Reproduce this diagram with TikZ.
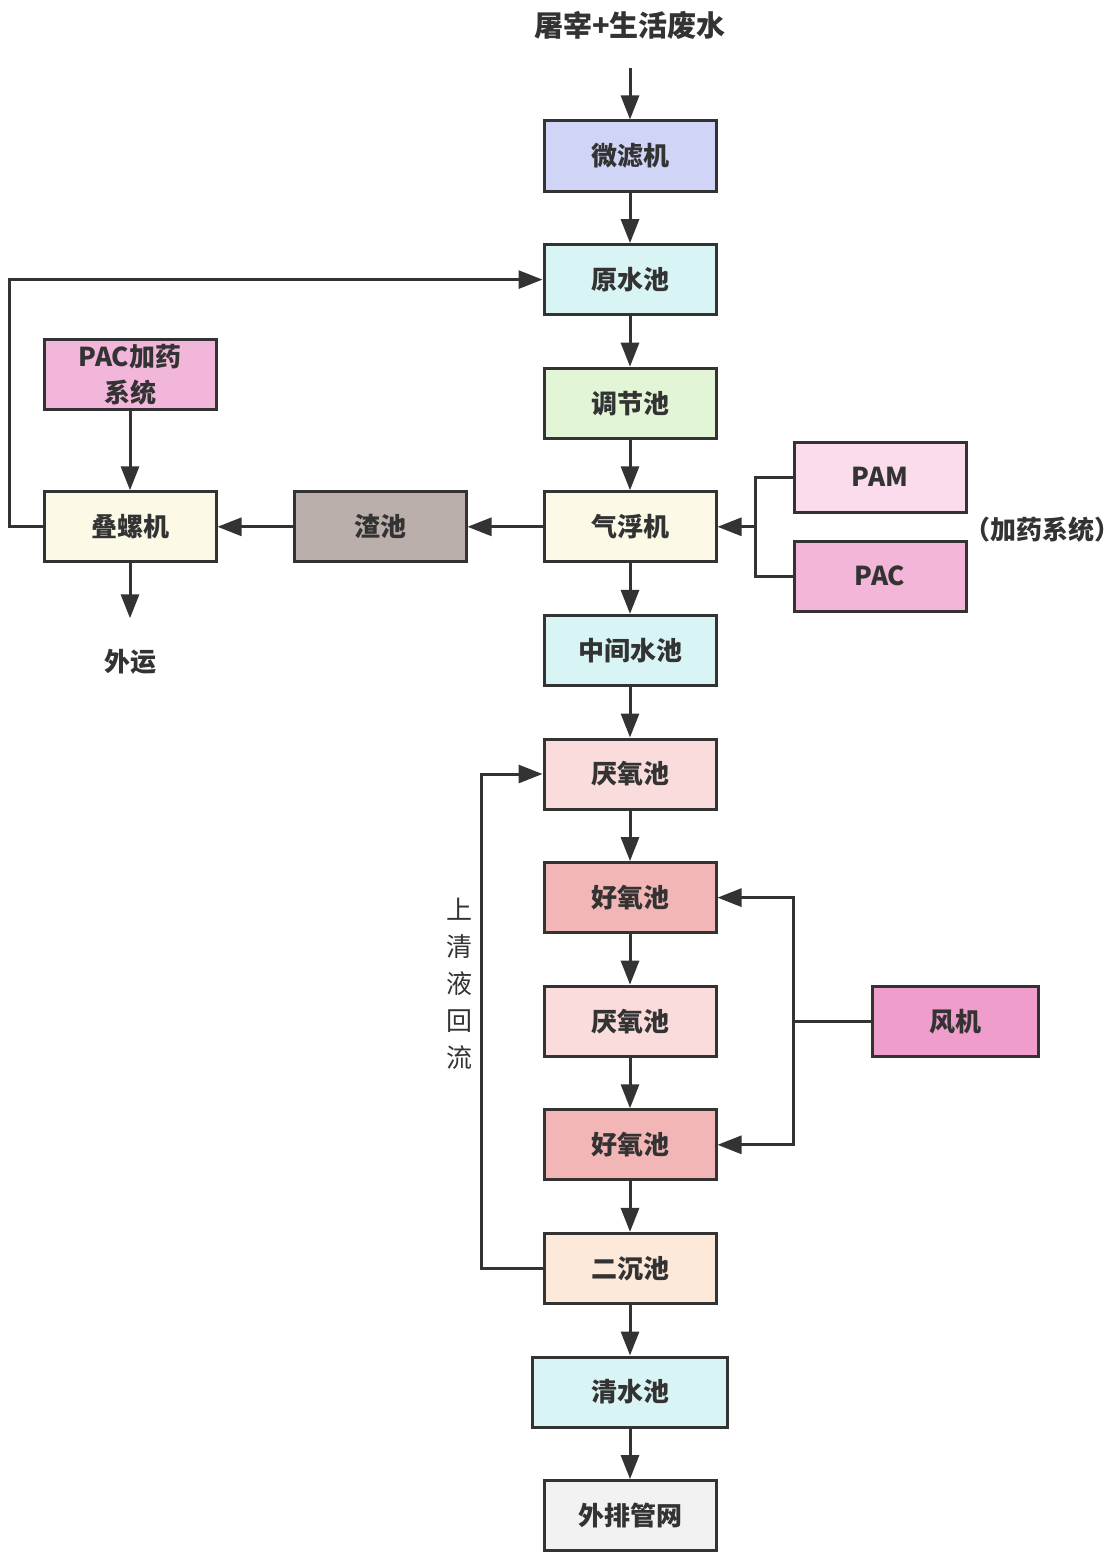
\documentclass[tikz,border=0pt]{standalone}
\usepackage{fontspec}
\setmainfont{Noto Sans CJK SC}
\usepackage{tikz}
\usetikzlibrary{positioning,calc,arrows.meta}

\definecolor{cLine}{HTML}{333333}
\definecolor{cMicro}{HTML}{D0D4F7}
\definecolor{cCyan}{HTML}{D9F4F5}
\definecolor{cGreen}{HTML}{E3F5D7}
\definecolor{cCream}{HTML}{FCF9E7}
\definecolor{cSlag}{HTML}{BAAFAA}
\definecolor{cAna}{HTML}{FADCDC}
\definecolor{cAero}{HTML}{F3B6B6}
\definecolor{cClar}{HTML}{FDE9D9}
\definecolor{cOut}{HTML}{F2F2F2}
\definecolor{cPacSys}{HTML}{F2B6DA}
\definecolor{cPam}{HTML}{FADCED}
\definecolor{cPac}{HTML}{F3B6D9}
\definecolor{cFan}{HTML}{EF9DCB}

\begin{document}
\begin{tikzpicture}[%
    node distance=25.3pt and 37.5pt,
    line/.style={draw=cLine, line width=1.5pt},
    arr/.style={line, -{Triangle[length=12pt,width=9pt]}},
    box/.style={%
      rectangle,
      draw=cLine,
      line width=1.5pt,
      minimum width=86pt,
      minimum height=35pt,
      inner sep=0pt,
      text=cLine,
      font=\bfseries\fontsize{13}{16}\selectfont
    },
    txt/.style={text=cLine, font=\bfseries\fontsize{13}{16}\selectfont}
  ]
    \useasboundingbox (0,0) rectangle (559pt,-776pt);

    % main line
    \node[txt, font=\bfseries\fontsize{14.5}{17}\selectfont] (src) at (315pt,-12.5pt) {屠宰+生活废水};
    \coordinate (srcend) at (315pt,-34pt);
    \node[box, fill=cMicro] (micro) at (315pt,-78pt) {微滤机};
    \node[box, fill=cCyan, below=of micro] (raw) {原水池};
    \node[box, fill=cGreen, below=of raw] (adj) {调节池};
    \node[box, fill=cCream, below=of adj] (float) {气浮机};
    \node[box, fill=cCyan, below=of float] (mid) {中间水池};
    \node[box, fill=cAna, below=of mid] (ana1) {厌氧池};
    \node[box, fill=cAero, below=of ana1] (aero1) {好氧池};
    \node[box, fill=cAna, below=of aero1] (ana2) {厌氧池};
    \node[box, fill=cAero, below=of ana2] (aero2) {好氧池};
    \node[box, fill=cClar, below=of aero2] (clar) {二沉池};
    \node[box, fill=cCyan, minimum width=97.5pt, below=of clar] (clean) {清水池};
    \node[box, fill=cOut, below=of clean] (net) {外排管网};

    % sludge side
    \node[box, fill=cSlag, left=of float] (slag) {渣池};
    \node[box, fill=cCream, left=of slag] (screw) {叠螺机};
    \node[box, fill=cPacSys, align=center, font=\bfseries\fontsize{13}{18}\selectfont,
          above=39.5pt of screw] (pacsys) {PAC加药\\系统};
    \coordinate (outtip) at ($(screw.south)+(0,-27.5pt)$);
    \node[txt] (out) at (65pt,-331pt) {外运};

    % dosing
    \node[box, fill=cPam, right=of float, yshift=24.75pt] (pam) {PAM};
    \node[box, fill=cPac, right=of float, yshift=-24.75pt] (pac) {PAC};
    \node[txt] (dosing) at (521pt,-265pt) {（加药系统）};
    \coordinate (dose) at ($(float.east)+(19pt,0)$);

    % blower
    \node[box, fill=cFan, minimum width=83pt, right=76.5pt of ana2] (fan) {风机};
    \coordinate (air) at ($(fan.west)+(-38.5pt,0)$);

    \node[text=cLine, align=center, font=\fontsize{13}{18.5}\selectfont]
      (back) at (229.5pt,-492pt) {上\\清\\液\\回\\流};

    \draw[arr] (srcend) -- (micro);
    \foreach \a/\b in {micro/raw, raw/adj, adj/float, float/mid, mid/ana1,
                       ana1/aero1, aero1/ana2, ana2/aero2, aero2/clar,
                       clar/clean, clean/net}
      \draw[arr] (\a) -- (\b);

    \draw[arr] (float) -- (slag);
    \draw[arr] (slag) -- (screw);
    \draw[arr] (pacsys) -- (screw);
    \draw[arr] (screw) -- (outtip);
    \draw[arr] (screw.west) -- ++(-16.5pt,0) |- (raw.west);

    \draw[line] (pam.west) -| (dose) |- (pac.west);
    \draw[arr] (dose) -- (float);

    \draw[line] (fan) -- (air);
    \draw[arr] (air) |- (aero1);
    \draw[arr] (air) |- (aero2);

    \draw[arr] (clar.west) -- ++(-30.5pt,0) |- (ana1.west);
\end{tikzpicture}
\end{document}
